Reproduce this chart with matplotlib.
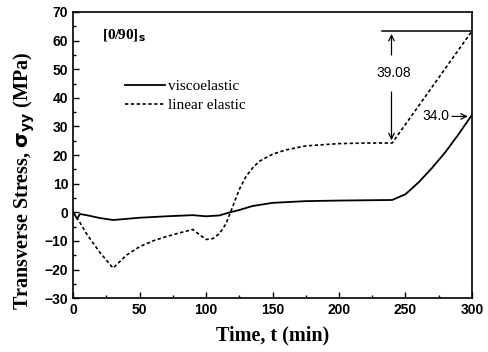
import numpy as np
import matplotlib
matplotlib.use('Agg')
import matplotlib.pyplot as plt

# time (min) and stress (MPa)
t_visco = [0, 2, 3, 5, 10, 20, 30, 50, 70, 90, 100, 110, 118, 125, 135, 150, 175, 200, 220, 240,
           250, 260, 270, 280, 290, 300]
s_visco = [0, -1.5, -2.3, -0.6, -1.0, -2.0, -2.7, -1.9, -1.4, -1.0, -1.4, -1.1, 0.0, 0.8, 2.2, 3.3,
           3.9, 4.1, 4.2, 4.3, 6.3, 10.5, 15.5, 21.0, 27.3, 34.0]

t_elastic = [0, 5, 10, 20, 30, 40, 50, 60, 70, 80, 90, 95, 100, 105, 110, 115, 120, 125, 130, 135,
             140, 150, 160, 175, 200, 220, 240, 300]
s_elastic = [0, -3.5, -7.5, -14.0, -19.5, -15.0, -12.0, -10.0, -8.5, -7.2, -6.0, -7.8, -9.5, -9.2,
             -7.5, -4.0, 2.0, 8.0, 12.5, 15.5, 17.8, 20.3, 21.8, 23.2, 24.0, 24.2, 24.2, 63.3]

plt.rcParams['font.family'] = 'Liberation Serif'

fig = plt.figure(figsize=(4.88, 3.52), dpi=100)
ax = fig.add_axes([0.150, 0.153, 0.817, 0.813])

ax.plot(t_visco, s_visco, color='black', lw=1.3, ls='-', label='viscoelastic')
ax.plot(t_elastic, s_elastic, color='black', lw=1.2, ls=(0, (2, 1.5)), label='linear elastic')

ax.set_xlim(0, 300)
ax.set_ylim(-30, 70)
ax.set_xticks([0, 50, 100, 150, 200, 250, 300])
ax.set_xticks([25, 75, 125, 175, 225, 275], minor=True)
ax.set_yticks(np.arange(-30, 71, 10))
ax.set_yticks(np.arange(-25, 70, 10), minor=True)
ax.tick_params(which='both', direction='in', top=False, right=False)
ax.tick_params(which='major', length=4, width=1)
ax.tick_params(which='minor', length=2, width=1)
for lab in ax.get_xticklabels() + ax.get_yticklabels():
    lab.set_family('Liberation Sans')
    lab.set_fontweight('bold')
    lab.set_fontsize(10)
for sp in ax.spines.values():
    sp.set_linewidth(1.2)

ax.set_xlabel('Time, t (min)', fontsize=14.5, fontweight='bold', labelpad=6)
ax.set_ylabel(r'Transverse Stress, $\mathbf{\sigma}_{\mathbf{yy}}$ (MPa)', fontsize=14.5,
              fontweight='bold')
ax.yaxis.set_label_coords(-0.09, 0.41)

ax.text(22, 61.5, r'[0/90]$_{\mathbf{s}}$', fontsize=11, fontweight='bold', va='center')
leg = ax.legend(loc='upper left', bbox_to_anchor=(0.13, 0.765), frameon=False, fontsize=11,
                handlelength=2.6, handletextpad=0.2, labelspacing=0.35, borderpad=0,
                borderaxespad=0)

# 39.08 step annotation
ax.plot([232, 300], [63.3, 63.3], color='black', lw=1.1)
ax.annotate('', xy=(239.5, 63.3), xytext=(239.5, 54),
            arrowprops=dict(arrowstyle='->', color='black', lw=0.9))
ax.annotate('', xy=(239.5, 24.2), xytext=(239.5, 43),
            arrowprops=dict(arrowstyle='->', color='black', lw=0.9))
ax.text(241, 48.5, '39.08', fontsize=10, ha='center', va='center', family='Liberation Sans')

# 34.0 label
ax.annotate('', xy=(299, 33.5), xytext=(283, 33.5),
            arrowprops=dict(arrowstyle='->', color='black', lw=0.9))
ax.text(273, 33.5, '34.0', fontsize=10, ha='center', va='center', family='Liberation Sans')

fig.savefig('out.png', dpi=100)
